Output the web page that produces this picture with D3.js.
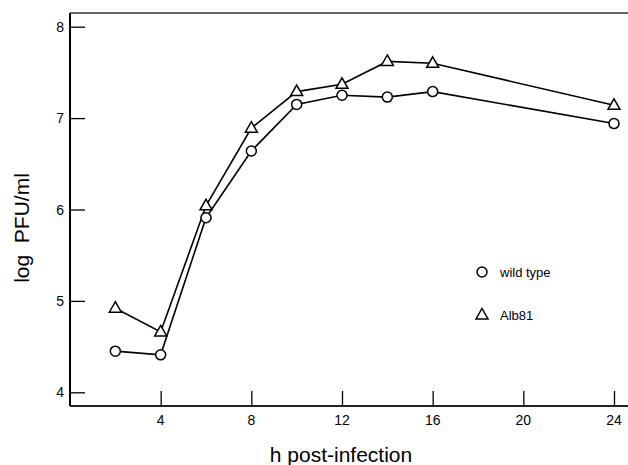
<!DOCTYPE html>
<html>
<head>
<meta charset="utf-8">
<script src="https://cdn.jsdelivr.net/npm/d3@7"></script>
<style>
  body { margin: 0; background: #fff; }
  svg { font-family: "Liberation Sans", Arial, sans-serif; }
</style>
</head>
<body>
<div id="chart"></div>
<script>
// hours post-infection
const hours = [2, 4, 6, 8, 10, 12, 14, 16, 24];
const wildType = [4.45, 4.41, 5.91, 6.64, 7.15, 7.25, 7.23, 7.29, 6.94];
const alb81 = [4.92, 4.66, 6.04, 6.89, 7.29, 7.37, 7.62, 7.60, 7.14];
const xTicks = [4, 8, 12, 16, 20, 24];
const yTicks = [4, 5, 6, 7, 8];

const width = 628,
    height = 465,
    plotLeft = 70,
    plotTop = 13,
    plotBottom = 406;

const svg = d3.select('#chart')
    .append('svg')
    .attr('width', width)
    .attr('height', height);

const x = d3.scaleLinear().domain([0, 24]).range([plotLeft, 614]);
const y = d3.scaleLinear().domain([4, 8]).range([392.3, 26.7]);

// frame: left, top, bottom (right side runs off the page)
svg.append('line')
    .attr('x1', plotLeft).attr('x2', plotLeft).attr('y1', plotTop).attr('y2', plotBottom)
    .attr('stroke', '#000').attr('stroke-width', 2);
svg.append('line')
    .attr('x1', plotLeft).attr('x2', width).attr('y1', plotTop).attr('y2', plotTop)
    .attr('stroke', '#333').attr('stroke-width', 1.5);
svg.append('line')
    .attr('x1', plotLeft).attr('x2', width).attr('y1', plotBottom).attr('y2', plotBottom)
    .attr('stroke', '#222').attr('stroke-width', 1.8);

// inward ticks
const yAxis = d3.axisRight(y).tickValues(yTicks).tickSize(15).tickFormat('');
svg.append('g').attr('transform', `translate(${plotLeft},0)`).call(yAxis)
    .call(g => g.select('.domain').remove())
    .call(g => g.selectAll('line').attr('stroke', '#000').attr('stroke-width', 1.3));

svg.selectAll('.ylab')
    .data(yTicks)
    .enter().append('text')
    .attr('x', 64)
    .attr('y', d => y(d) + 5)
    .attr('text-anchor', 'end')
    .attr('font-size', 14)
    .text(d => d);

const xAxis = d3.axisTop(x).tickValues(xTicks).tickSize(15).tickFormat('');
svg.append('g').attr('transform', `translate(0,${plotBottom})`).call(xAxis)
    .call(g => g.select('.domain').remove())
    .call(g => g.selectAll('line').attr('stroke', '#000').attr('stroke-width', 1.3));

svg.selectAll('.xlab')
    .data(xTicks)
    .enter().append('text')
    .attr('x', d => x(d))
    .attr('y', 425)
    .attr('text-anchor', 'middle')
    .attr('font-size', 14)
    .text(d => d);

svg.append('text')
    .attr('x', 341).attr('y', 462)
    .attr('text-anchor', 'middle')
    .attr('font-size', 21)
    .text('h post-infection');

svg.append('text')
    .attr('transform', 'translate(29,228) rotate(-90)')
    .attr('text-anchor', 'middle')
    .attr('font-size', 21)
    .style('white-space', 'pre')
    .text('log  PFU/ml');

const line = d3.line().x(d => x(d[0])).y(d => y(d[1]));

const triPath = 'M0,-6.5L6,4L-6,4Z';

function series(values, marker) {
    const pts = hours.map((h, i) => [h, values[i]]);
    svg.append('path')
        .datum(pts)
        .attr('d', line)
        .attr('fill', 'none')
        .attr('stroke', '#000')
        .attr('stroke-width', 1.6);
    if (marker === 'circle') {
        svg.selectAll(null).data(pts).enter().append('circle')
            .attr('cx', d => x(d[0])).attr('cy', d => y(d[1]))
            .attr('r', 5)
            .attr('fill', '#fff').attr('stroke', '#000').attr('stroke-width', 1.5);
    } else {
        svg.selectAll(null).data(pts).enter().append('path')
            .attr('transform', d => `translate(${x(d[0])},${y(d[1])})`)
            .attr('d', triPath)
            .attr('fill', '#fff').attr('stroke', '#000').attr('stroke-width', 1.5);
    }
}

series(alb81, 'triangle');
series(wildType, 'circle');

// legend
svg.append('circle')
    .attr('cx', 482).attr('cy', 272).attr('r', 5)
    .attr('fill', '#fff').attr('stroke', '#000').attr('stroke-width', 1.5);
svg.append('text').attr('x', 500).attr('y', 277).attr('font-size', 13).text('wild type');
svg.append('path')
    .attr('transform', 'translate(482,315)')
    .attr('d', triPath)
    .attr('fill', '#fff').attr('stroke', '#000').attr('stroke-width', 1.5);
svg.append('text').attr('x', 500).attr('y', 320).attr('font-size', 13).text('Alb81');
</script>
</body>
</html>
